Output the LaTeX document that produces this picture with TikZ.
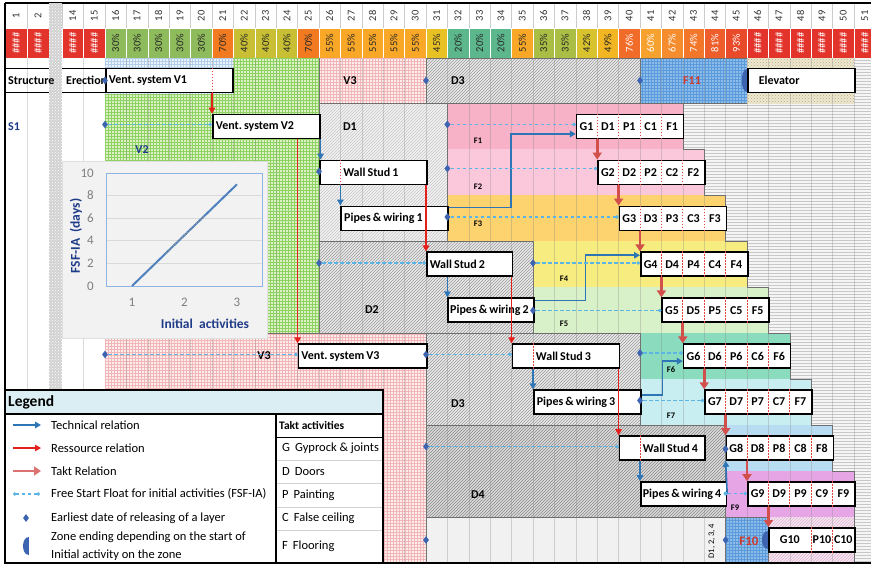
\documentclass[tikz,border=0pt]{standalone}
\usepackage{fontspec}
\setmainfont{Carlito}
\usetikzlibrary{patterns,arrows.meta,shapes.geometric}
\newcommand\fsz[1]{\fontsize{#1}{#1}\selectfont}
\newcommand\bxt[1]{\mbox{\spaceskip=0.17em\relax #1}}
\frenchspacing
\definecolor{pred}{HTML}{E3342C}
\definecolor{c30}{HTML}{8EBB5B}
\definecolor{c70}{HTML}{F27B21}
\definecolor{c40}{HTML}{C8BF34}
\definecolor{c55}{HTML}{F8A726}
\definecolor{c45}{HTML}{E8C125}
\definecolor{c20}{HTML}{5CB78C}
\definecolor{c35}{HTML}{AABD44}
\definecolor{c42}{HTML}{D8C22E}
\definecolor{c49}{HTML}{F3B623}
\definecolor{c76}{HTML}{F26C29}
\definecolor{c60}{HTML}{F7A12F}
\definecolor{c67}{HTML}{F58D2E}
\definecolor{c74}{HTML}{F2772B}
\definecolor{c81}{HTML}{EE5E2B}
\definecolor{c93}{HTML}{E94A2A}
\definecolor{techblue}{HTML}{2E75B6}
\definecolor{resred}{HTML}{E3201B}
\definecolor{taktred}{HTML}{D2504C}
\definecolor{fsfblue}{HTML}{5AB4E5}
\definecolor{mkblue}{HTML}{3C64B0}
\definecolor{navy}{HTML}{1F3C88}
\definecolor{fred}{HTML}{D03A2C}
\definecolor{v1f}{HTML}{EAF2FA}
\definecolor{v1l}{HTML}{B4CFEC}
\definecolor{v2f}{HTML}{DCF1C6}
\definecolor{v2l}{HTML}{8ED262}
\definecolor{v3f}{HTML}{FCEDED}
\definecolor{v3l}{HTML}{F2B6B8}
\definecolor{dhf}{HTML}{E9E9E9}
\definecolor{dhl}{HTML}{9A9A9A}
\definecolor{d1f}{HTML}{F3F3F3}
\definecolor{d1l}{HTML}{C4C4C4}
\definecolor{d4f}{HTML}{DADADA}
\definecolor{d4l}{HTML}{8A8A8A}
\definecolor{f1}{HTML}{F7B2C7}
\definecolor{f2}{HTML}{FAC8DA}
\definecolor{f3}{HTML}{FCD36E}
\definecolor{f4}{HTML}{F6EC80}
\definecolor{f5}{HTML}{D9F1C8}
\definecolor{f6}{HTML}{8BDBBF}
\definecolor{f7}{HTML}{C9EEF2}
\definecolor{f8}{HTML}{B8DCF1}
\definecolor{f9}{HTML}{E6A6E6}
\definecolor{fbf}{HTML}{8CBDEA}
\definecolor{fbl}{HTML}{5B9BDC}
\definecolor{elf}{HTML}{EFE9D2}
\definecolor{ell}{HTML}{B8AA80}
\definecolor{stf}{HTML}{F5F5F5}
\definecolor{stl}{HTML}{C8C8C8}
\definecolor{ltf}{HTML}{F1F1F1}
\definecolor{pkf}{HTML}{F7E6F1}
\definecolor{pkl}{HTML}{DDB3CF}
\definecolor{sepg}{HTML}{D2D2D2}
\definecolor{zline}{HTML}{6E6E6E}
\definecolor{legbg}{HTML}{DAEEF3}
\definecolor{chartbg}{HTML}{F2F2F2}
\definecolor{plotblue}{HTML}{8EB4E3}
\definecolor{plotline}{HTML}{4F81BD}
\definecolor{ticktxt}{HTML}{7F7F7F}
\begin{document}
\begin{tikzpicture}[x=1pt,y=-1pt,
  box/.style={draw=black, line width=1.6pt, fill=white, minimum height=24pt, inner xsep=3pt, inner ysep=0pt, anchor=west, align=left, font=\fsz{12}\bfseries},
  gbox/.style={draw=black, line width=1.6pt, fill=white, minimum height=24pt, inner sep=0pt, anchor=west},
  gtxt/.style={font=\fsz{12}\bfseries, inner sep=0pt},
  div/.style={draw=resred!85, line width=0.7pt, dash pattern=on 1.6pt off 1.4pt},
  zl/.style={font=\fsz{12}\bfseries, inner sep=0pt},
  fl/.style={font=\fsz{8.5}\bfseries, inner sep=0pt},
  num/.style={rotate=90, font=\fsz{10.5}, text=black!80, inner sep=0pt},
  pct/.style={rotate=90, font=\fsz{10.5}, inner sep=0pt},
  mk/.style={diamond, fill=mkblue, inner sep=0pt, minimum width=6pt, minimum height=8pt},
  fsf/.style={draw=fsfblue, line width=1.1pt, dash pattern=on 3.5pt off 2.5pt, -{Circle[length=3.4pt]}},
  tech/.style={draw=techblue, line width=1.6pt, -{Triangle[length=6pt,width=6.5pt]}},
  res/.style={draw=resred, line width=1.3pt, -{Triangle[length=6pt,width=6.5pt]}},
  takt/.style={draw=taktred, line width=2.8pt, -{Triangle[length=7pt,width=9pt]}},
  legtxt/.style={font=\fsz{12.5}, anchor=west, inner sep=0pt},
  zoneline/.style={draw=zline, line width=0.6pt},
  zv1/.style={preaction={fill=v1f}, pattern=grid, pattern color=v1l},
  zv2/.style={preaction={fill=v2f}, pattern=grid, pattern color=v2l},
  zv3/.style={preaction={fill=v3f}, pattern=grid, pattern color=v3l},
  zd/.style={preaction={fill=dhf}, pattern=north east lines, pattern color=dhl, zoneline},
  zd1/.style={preaction={fill=d1f}, pattern=north east lines, pattern color=d1l, zoneline},
  zd4/.style={preaction={fill=d4f}, pattern=north east lines, pattern color=d4l, zoneline},
  zblue/.style={preaction={fill=fbf}, pattern=grid, pattern color=fbl, zoneline},
  zelev/.style={preaction={fill=elf}, pattern=crosshatch dots, pattern color=ell},
  zpink/.style={preaction={fill=pkf}, pattern=north east lines, pattern color=pkl},
  zstripe/.style={preaction={fill=stf}, pattern=horizontal lines, pattern color=stl},
  colline/.style={draw=gray, line width=0.5pt, opacity=0.3}
]
\clip (0,0) rectangle (871,565);
\fill[white] (0,0) rectangle (871,565);

% ---------- header ----------
\foreach \n/\xl/\w in {1/5/22,2/27/22,14/62/21.5,15/83.5/21.5}{
  \fill[pred] (\xl,28) rectangle ++(\w,30);
  \draw[white, line width=0.6pt] (\xl,28) rectangle ++(\w,30);
  \draw[gray!40] (\xl,3) -- (\xl,28);
  \node[num] (n\n) at ({\xl+\w/2},16) {\n};
  \node[pct, text=white] (p\n) at ({\xl+\w/2},43) {\#\#\#\#};
}
\foreach \k/\cl/\lbl/\tcol in {16/c30/30\%/black!85,17/c30/30\%/black!85,18/c30/30\%/black!85,19/c30/30\%/black!85,20/c30/30\%/black!85,
  21/c70/70\%/black!85,22/c40/40\%/black!85,23/c40/40\%/black!85,24/c40/40\%/black!85,25/c70/70\%/black!85,
  26/c55/55\%/black!85,27/c55/55\%/black!85,28/c55/55\%/black!85,29/c55/55\%/black!85,30/c55/55\%/black!85,
  31/c45/45\%/black!85,32/c20/20\%/black!85,33/c20/20\%/black!85,34/c20/20\%/black!85,35/c55/55\%/black!85,
  36/c35/35\%/black!85,37/c35/35\%/black!85,38/c42/42\%/black!85,39/c49/49\%/black!85,
  40/c76/76\%/white,41/c60/60\%/white,42/c67/67\%/white,43/c74/74\%/white,44/c81/81\%/white,45/c93/93\%/white,
  46/pred/\#\#\#\#/white,47/pred/\#\#\#\#/white,48/pred/\#\#\#\#/white,49/pred/\#\#\#\#/white,50/pred/\#\#\#\#/white,51/pred/\#\#\#\#/white}{
  \pgfmathsetmacro\xl{105+21.4*(\k-16)}
  \fill[\cl] (\xl,28) rectangle ++(21.4,30);
  \draw[white, line width=0.6pt] (\xl,28) rectangle ++(21.4,30);
  \draw[gray!40] (\xl,3) -- (\xl,28);
  \node[num] (n\k) at ({\xl+10.7},16) {\k};
  \node[pct, text=\tcol] (p\k) at ({\xl+10.7},43) {\lbl};
}
\draw[black, line width=1.4pt] (5,3) -- (871,3);

% ---------- left columns ----------
\foreach \x in {27,83.5}{\draw[gray!30, line width=0.5pt] (\x,58) -- (\x,563);}
\path[preaction={fill=sepg}, pattern=crosshatch dots, pattern color=white] (49,3) rectangle (62,563);
\draw[line width=1.4pt] (5,68.5) -- (49,68.5) (62,68.5) -- (105,68.5) (5,92.5) -- (49,92.5) (62,92.5) -- (105,92.5);

% ---------- zones ----------
\path[zstripe] (575,58) rectangle (871,563);
\path[zv1] (105,58) rectangle (233.4,94);
\path[zv2] (105,94) -- (233.4,94) -- (233.4,58) -- (319,58) -- (319,333.2) -- (105,333.2) -- cycle;
\path[zv3] (319,58) rectangle (426,103.5);
\path[zv3] (105,333.2) rectangle (426,563);
\path[zd] (426,58) rectangle (640,103.5);
\path[zblue] (640,58) rectangle (747,103.5);
\path[zelev] (747,58) rectangle (854,103.5);
\path[zd1] (319,103.5) rectangle (447.4,241.3);
\path[zd] (319,241.3) rectangle (533,333.2);
\path[zd] (426,333.2) rectangle (640,425.1);
\path[zd4] (426,425.1) rectangle (725.6,517);
\path[fill=ltf, zoneline] (426,517) rectangle (725.6,563);
\fill[f1] (447.4,103.5) rectangle (682.8,149.4);
\fill[f2] (447.4,149.4) rectangle (704.2,195.4);
\fill[f3] (447.4,195.4) rectangle (725.6,241.3);
\fill[f4] (533,241.3) rectangle (747,287.3);
\fill[f5] (533,287.3) rectangle (768.4,333.2);
\fill[f6] (640,333.2) rectangle (789.8,379.1);
\fill[f7] (640,379.1) rectangle (811.2,425.1);
\fill[f8] (725.6,425.1) rectangle (832.6,471);
\fill[f9] (725.6,471) rectangle (854,517);
\path[zpink] (768.4,517) rectangle (854,563);
\path[zblue] (725.6,517) rectangle (768.4,563);
\draw[zoneline] (447.4,241.3) -- (447.4,103.5) -- (682.8,103.5) -- (682.8,149.4) -- (704.2,149.4) -- (704.2,195.4) -- (725.6,195.4) -- (725.6,241.3) -- (747,241.3) -- (747,287.3) -- (768.4,287.3) -- (768.4,333.2) -- (789.8,333.2) -- (789.8,379.1) -- (811.2,379.1) -- (811.2,425.1) -- (832.6,425.1) -- (832.6,471) -- (854,471) -- (854,563);
\draw[zoneline] (447.4,241.3) -- (533,241.3) -- (533,333.2) -- (640,333.2) -- (640,425.1) -- (725.6,425.1) -- (725.6,517);
\draw[zoneline] (319,103.5) -- (319,333.2) -- (105,333.2) (319,58) -- (319,103.5);
\foreach \k in {17,...,51}{\draw[colline] ({105+21.4*(\k-16)},58) -- ++(0,505);}
\draw[line width=1.4pt] (5,3) -- (5,563);
\draw[line width=1.4pt] (5,563) -- (871,563);

% ---------- zone labels ----------
\node[zl] (lv3a) at (350,80.5) {V3};
\node[zl] (ld3a) at (458,80.5) {D3};
\node[zl, text=fred] (lf11) at (692,80.5) {F11};
\node[zl, text=navy] (ls1) at (14,127) {S1};
\node[zl, text=navy] (lv2) at (142,150) {V2};
\node[zl] (ld1) at (350,127) {D1};
\node[zl] (ld2) at (372,310) {D2};
\node[zl] (lv3b) at (264,356) {V3};
\node[zl] (ld3b) at (458,404) {D3};
\node[zl] (ld4) at (478,495) {D4};
\node[fl] (lF1) at (478,141) {F1};
\node[fl] (lF2) at (478,187) {F2};
\node[fl] (lF3) at (478,224) {F3};
\node[fl] (lF4) at (564,279) {F4};
\node[fl] (lF5) at (564,324) {F5};
\node[fl] (lF6) at (671,370) {F6};
\node[fl] (lF7) at (671,416) {F7};
\node[fl] (lF9) at (735,508) {F9};
\node[font=\fsz{13}\bfseries, text=fred, inner sep=0pt] (lF10) at (749,541) {F10};
\node[rotate=90, font=\fsz{8.5}, inner sep=0pt] (ldall) at (712,541) {D1, 2, 3, 4};
\node[zl, anchor=west] (lstr) at (8,80.5) {Structure};
\node[zl, anchor=west] (lere) at (66,80.5) {Erection};

% ---------- boxes ----------
\node[box, text width=121pt] (v1) at (105,80.5) {\bxt{Vent. system V1}};
\node[box, text width=101pt] (v2) at (212,126.44) {\bxt{Vent. system V2}};
\node[box, text width=101pt] (ws1) at (319,172.38) {\bxt{\hspace*{20.5pt}Wall Stud 1}};
\node[box, text width=101pt] (pw1) at (340.4,218.32) {\bxt{Pipes \& wiring 1}};
\node[box, text width=79.6pt] (ws2) at (426,264.26) {\bxt{Wall Stud 2}};
\node[box, text width=81.6pt, inner xsep=2pt] (pw2) at (447.4,310.2) {\bxt{Pipes \& wiring 2}};
\node[box, text width=122.4pt] (v3) at (297.6,356.14) {\bxt{Vent. system V3}};
\node[box, text width=101pt] (ws3) at (511.6,356.14) {\bxt{\hspace*{20.5pt}Wall Stud 3}};
\node[box, text width=101pt] (pw3) at (533,402.08) {\bxt{Pipes \& wiring 3}};
\node[box, text width=79.6pt] (ws4) at (618.6,448.02) {\bxt{\hspace*{20.5pt}Wall Stud 4}};
\node[box, text width=81.6pt, inner xsep=2pt] (pw4) at (640,493.96) {\bxt{Pipes \& wiring 4}};
\node[box, text width=101pt] (elev) at (747,80.5) {\bxt{\hspace*{8pt}Elevator}};
\foreach \x/\b in {107/v1,21.4/ws1,21.4/ws3,21.4/ws4}{
  \draw[div] ([xshift=\x pt]\b.north west) -- ([xshift=\x pt]\b.south west);}

\foreach \i in {1,...,9}{
  \pgfmathsetmacro\gx{105+21.4*(21+\i)}
  \pgfmathsetmacro\gy{80.5+45.94*\i}
  \node[gbox, minimum width=107pt] (g\i) at (\gx,\gy) {};
  \foreach \L [count=\m from 0] in {G,D,P,C,F}{
    \node[gtxt] (g\i\L) at ({\gx+10.7+21.4*\m},\gy) {\L\i};}
  \foreach \m in {1,...,4}{
    \draw[div] ([xshift=21.4*\m pt]g\i.north west) -- ([xshift=21.4*\m pt]g\i.south west);}
}
\node[gbox, minimum width=85.6pt] (g10) at (768.4,539.9) {};
\node[gtxt] (g10G) at (789.8,539.9) {G10};
\node[gtxt] (g10P) at (821.9,539.9) {P10};
\node[gtxt] (g10C) at (843.3,539.9) {C10};
\draw[div] ([xshift=42.8pt]g10.north west) -- ([xshift=42.8pt]g10.south west);
\draw[div] ([xshift=64.2pt]g10.north west) -- ([xshift=64.2pt]g10.south west);

% ---------- zone ending markers ----------
\fill[mkblue] ([yshift=-1pt]elev.north west) .. controls +(-7,0) and +(-7,0) .. ([yshift=1pt]elev.south west) -- cycle;
\fill[mkblue] ([yshift=-4pt]g10.north west) .. controls +(-8,0) and +(-8,0) .. ([yshift=4pt]g10.south west) -- cycle;

% ---------- resource relations ----------
\draw[res] (v1.south -| v2.west) -- (v2.north west);
\draw[res] (v2.south -| v3.west) -- (v3.north west);
\draw[res] (ws1.south -| ws2.west) -- (ws2.north west);
\draw[res] (ws2.south -| ws3.west) -- (ws3.north west);
\draw[res] (ws3.south -| ws4.west) -- (ws4.north west);

% ---------- technical relations ----------
\draw[tech] (v2.south east) -- (v2.south east |- ws1.north);
\draw[tech] (ws1.south -| pw1.west) -- (pw1.north west);
\draw[tech] (ws2.south -| pw2.west) -- (pw2.north west);
\draw[tech] (ws3.south -| pw3.west) -- (pw3.north west);
\draw[tech] (ws4.south -| pw4.west) -- (pw4.north west);
\draw[tech] ([yshift=-2pt]pw1.north east) -- ++(62,0) |- ([yshift=-7.5pt]g1.west);
\draw[tech] ([yshift=-3pt]pw2.north east) -- ++(51,0) |- ([yshift=9pt]g4.west);
\draw[tech] ([yshift=-6pt]pw3.north east) -- ++(21,0) |- ([yshift=-5pt]g6.west);
\draw[tech] (pw4.east) -- (g8.south west);

% ---------- takt relations ----------
\foreach \i [evaluate=\i as \j using int(\i+1)] in {1,...,9}{
  \draw[takt] (g\i.south -| g\j.west) -- (g\j.north west);}

% ---------- FSF-IA and earliest dates ----------
\node[mk] (m1) at (105,80.5) {};
\node[mk] (m2) at (426,80.5) {};
\node[mk] (m3) at (640,80.5) {};
\node[mk] (m4) at (105,124.5) {};
\node[mk] (m5) at (447.4,124.5) {};
\node[mk] (m6) at (447.4,168.5) {};
\node[mk] (m7) at (447.4,217) {};
\node[mk] (m8) at (319,171.5) {};
\node[mk] (m9) at (319,263) {};
\node[mk] (m10) at (533,263) {};
\node[mk] (m11) at (533,310.5) {};
\node[mk] (m12) at (105,354.5) {};
\node[mk] (m13) at (426,354.5) {};
\node[mk] (m14) at (640,353) {};
\node[mk] (m15) at (640,400.5) {};
\node[mk] (m16) at (426,446.5) {};
\node[mk] (m17) at (725.6,449) {};
\node[circle, fill=fsfblue, inner sep=0pt, minimum size=4pt] (m18) at (725.6,493.5) {};
\node[mk] (m19) at (426,540) {};
\node[mk] (m20) at (725.6,540) {};
\draw[fsf] (m4) -- (m4 -| v2.west);
\draw[fsf] (m5) -- (m5 -| g1.west);
\draw[fsf] (m6) -- (m6 -| g2.west);
\draw[fsf] (m7) -- (m7 -| g3.west);
\draw[fsf] (m9) -- (m9 -| ws2.west);
\draw[fsf] (m10) -- (m10 -| g4.west);
\draw[fsf] (m11) -- (m11 -| g5.west);
\draw[fsf] (m12) -- (m12 -| v3.west);
\draw[fsf] (m13) -- (m13 -| ws3.west);
\draw[fsf] (m14) -- (m14 -| g6.west);
\draw[fsf] (m15) -- (m15 -| g7.west);
\draw[fsf] (m16) -- (m16 -| ws4.west);
\draw[fsf] (m18) -- (m18 -| g9.west);

% ---------- inset chart ----------
\fill[chartbg] (62,161) rectangle (267,338);
\draw[gray!25, line width=0.5pt] (62,161) rectangle (267,338);
\foreach \v in {2,4,6,8}{\draw[gray!30, line width=0.7pt] (106,{286-11.3*\v}) -- (262,{286-11.3*\v});}
\draw[plotblue, line width=0.9pt] (106,173) rectangle (262,286);
\foreach \v in {0,2,4,6,8,10}{\node[font=\fsz{13}, text=ticktxt, anchor=east, inner sep=0pt] (yt\v) at (94,{286-11.3*\v}) {\v};}
\foreach \v/\x in {1/132,2/184.5,3/237}{\node[font=\fsz{13}, text=ticktxt, inner sep=0pt] (xt\v) at (\x,302) {\v};}
\coordinate (pl0) at (132,286);
\coordinate (pl1) at (237,184.3);
\draw[plotline, line width=2pt] (pl0) -- (pl1);
\coordinate (pd0) at (166,253);
\coordinate (pd1) at (204,216);
\draw[gray!80, line width=1.2pt, dotted] (pd0) -- (pd1);
\node[rotate=90, font=\fsz{13.5}\bfseries, text=navy, inner sep=0pt] (yax) at (76,236) {FSF-IA\ \ (days)};
\node[font=\fsz{13.5}\bfseries, text=navy, inner sep=0pt] (xax) at (205,324) {Initial\ \ activities};

% ---------- legend ----------
\fill[white] (5,390) rectangle (383,563);
\fill[legbg] (5,390) rectangle (383,414);
\draw[gray!35, line width=0.5pt] (276,460) -- (383,460) (276,483) -- (383,483) (276,507) -- (383,507) (276,530) -- (383,530);
\draw[line width=1pt] (276,437) -- (383,437);
\draw[line width=1.1pt] (5,414) -- (383,414);
\draw[line width=1.1pt] (276,414) -- (276,563);
\draw[line width=1.4pt] (5,390) rectangle (383,563);
\node[font=\fsz{15.5}\bfseries, anchor=west, inner sep=0pt] (legt) at (8,402) {Legend};
\coordinate (la0) at (13,425); \coordinate (la1) at (41,425);
\coordinate (lb0) at (13,448); \coordinate (lb1) at (41,448);
\coordinate (lc0) at (13,471); \coordinate (lc1) at (41,471);
\coordinate (ld0) at (13,494); \coordinate (ld1) at (40,494);
\draw[tech] (la0) -- (la1);
\draw[res] (lb0) -- (lb1);
\draw[takt, draw=taktred!80] (lc0) -- (lc1);
\draw[fsf, {Circle[length=3.4pt]}-{Circle[length=3.4pt]}] (ld0) -- (ld1);
\node[mk] (lmk) at (26,518) {};
\fill[mkblue] (29,537) .. controls (21,537) and (21,555) .. (29,555) -- cycle;
\node[legtxt] (lt1) at (51,425) {Technical relation};
\node[legtxt] (lt2) at (51,448) {Ressource relation};
\node[legtxt] (lt3) at (51,471) {Takt Relation};
\node[legtxt] (lt4) at (51,494) {Free Start Float for initial activities (FSF-IA)};
\node[legtxt] (lt5) at (51,518) {Earliest date of releasing of a layer};
\node[legtxt] (lt6) at (51,537) {Zone ending depending on the start of};
\node[legtxt] (lt7) at (51,555) {Initial activity on the zone};
\node[font=\fsz{11.5}\bfseries, anchor=west, inner sep=0pt] (tk) at (279,425.5) {Takt activities};
\node[legtxt] (tkG) at (282,448.5) {G\hspace{5pt}Gyprock \& joints};
\node[legtxt] (tkD) at (282,471.5) {D\hspace{5pt}Doors};
\node[legtxt] (tkP) at (282,495) {P\hspace{5pt}Painting};
\node[legtxt] (tkC) at (282,518.5) {C\hspace{5pt}False ceiling};
\node[legtxt] (tkF) at (282,546) {F\hspace{5pt}Flooring};
\end{tikzpicture}
\end{document}
